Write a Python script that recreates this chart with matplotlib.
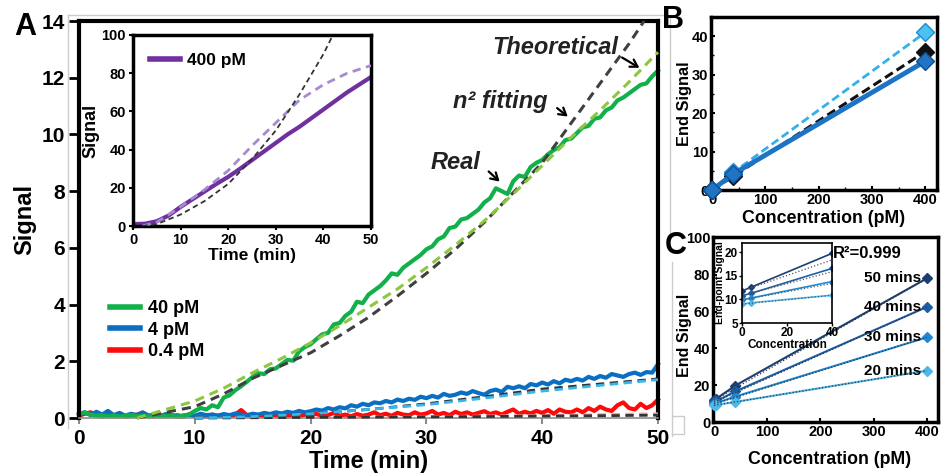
import matplotlib
matplotlib.use('Agg')
import matplotlib.pyplot as plt
import numpy as np
from matplotlib.lines import Line2D

plt.rcParams['font.family'] = ['Liberation Sans', 'DejaVu Sans']
plt.rcParams['font.weight'] = 'bold'
plt.rcParams['axes.labelweight'] = 'bold'

W, H = 942, 475

# ---- panel A, raw traces sampled every 0.5 min ----
time = np.arange(0, 50.01, 0.5)
green_40 = [0.15, 0.2, 0.12, 0.08, 0.1, 0.06, 0.09, 0.05, 0.08, 0.1,
            0.06, 0.08, 0.05, 0.07, 0.1, 0.06, 0.08, 0.05, 0.09, 0.12,
            0.25, 0.35, 0.3, 0.45, 0.38, 0.72, 0.8, 0.98, 1.12, 1.28,
            1.45, 1.58, 1.55, 1.72, 1.75, 1.9, 2.05, 2.02, 2.35, 2.5,
            2.6, 2.78, 2.95, 3.0, 3.3, 3.35, 3.6, 3.75, 4.1, 4.05,
            4.35, 4.5, 4.65, 4.85, 5.1, 5.05, 5.3, 5.45, 5.6, 5.75,
            5.95, 6.05, 6.3, 6.4, 6.7, 6.75, 7.0, 7.05, 7.2, 7.35,
            7.6, 7.75, 8.1, 8.0, 7.9, 8.35, 8.55, 8.5, 8.85, 9.0,
            9.1, 9.3, 9.45, 9.55, 9.8, 9.85, 10.05, 10.25, 10.3, 10.55,
            10.6, 10.85, 10.95, 11.2, 11.3, 11.45, 11.6, 11.75, 11.8, 12.05,
            12.25]
blue_4 = [0.12, 0.2, 0.1, 0.22, 0.12, 0.25, 0.1, 0.18, 0.08, 0.15,
          0.1, 0.2, 0.08, 0.12, 0.06, 0.14, 0.08, 0.1, 0.05, 0.12,
          0.08, 0.15, 0.1, 0.12, 0.08, 0.14, 0.1, 0.16, 0.12, 0.1,
          0.15, 0.12, 0.18, 0.14, 0.2, 0.16, 0.22, 0.18, 0.25, 0.2,
          0.24, 0.3, 0.26, 0.35, 0.3, 0.38, 0.34, 0.45, 0.4, 0.5,
          0.45, 0.55, 0.52, 0.6, 0.55, 0.65, 0.6, 0.68, 0.64, 0.75,
          0.7, 0.78, 0.72, 0.85, 0.78, 0.82, 0.9, 0.85, 0.95, 0.88,
          0.82, 0.95, 1.0, 0.92, 1.1, 1.05, 1.12, 1.05, 1.2, 1.15,
          1.25, 1.18, 1.3, 1.22, 1.35, 1.3, 1.38, 1.32, 1.45, 1.38,
          1.48, 1.42, 1.55, 1.5, 1.45, 1.55, 1.6, 1.52, 1.62, 1.6,
          1.9]
red_04 = [0.08, 0.15, 0.2, 0.1, 0.05, 0.12, 0.06, 0.1, 0.04, 0.08,
          0.12, 0.18, 0.08, 0.05, 0.12, 0.06, 0.1, 0.04, 0.08, 0.12,
          0.06, 0.1, 0.05, 0.12, 0.08, 0.1, 0.05, 0.12, 0.28, 0.1,
          0.06, 0.1, 0.05, 0.12, 0.08, 0.14, 0.06, 0.1, 0.05, 0.12,
          0.08, 0.15, 0.06, 0.1, 0.18, 0.08, 0.12, 0.06, 0.14, 0.08,
          0.12, 0.2, 0.1, 0.15, 0.08, 0.18, 0.12, 0.1, 0.2, 0.12,
          0.16, 0.25, 0.12, 0.18, 0.1, 0.22, 0.14, 0.2, 0.12, 0.18,
          0.24, 0.14, 0.2, 0.12, 0.22, 0.3, 0.15, 0.22, 0.16, 0.25,
          0.18, 0.28, 0.15, 0.3, 0.22, 0.2, 0.3, 0.2, 0.35, 0.25,
          0.4, 0.3, 0.25, 0.45, 0.55, 0.35, 0.3, 0.5, 0.35, 0.45,
          0.65]

# fitted / theoretical curves
fit_t = [5, 7.5, 10, 12.5, 15, 17.5, 20, 22.5, 25, 27.5, 30, 32.5, 35, 37.5, 40, 42.5, 45, 47.5, 50]
green_fit = [0, 0.3, 0.6, 1.05, 1.6, 2.1, 2.65, 3.25, 3.9, 4.55, 5.3, 6.1, 6.95, 7.9, 8.9, 9.9, 10.85, 11.85, 12.9]
theo_t = [5, 7.5, 10, 12.5, 15, 17.5, 20, 22.5, 25, 27.5, 30, 32.5, 35, 37.5, 40, 42.5, 45, 47.5, 48.8]
green_theo = [0, 0.2, 0.4, 0.85, 1.4, 1.85, 2.3, 2.9, 3.55, 4.3, 5.1, 5.95, 6.9, 7.95, 9.0, 10.4, 11.8, 13.2, 14.0]
low_t = [10, 15, 20, 25, 30, 35, 40, 45, 50]
blue_fit = [0, 0.05, 0.15, 0.3, 0.47, 0.7, 0.95, 1.15, 1.35]
blue_theo = [0, 0.05, 0.15, 0.3, 0.5, 0.75, 1.02, 1.2, 1.38]
red_fit = [0, 0.01, 0.02, 0.03, 0.05, 0.07, 0.09, 0.12, 0.15]
red_theo = [0, 0.01, 0.02, 0.03, 0.04, 0.05, 0.07, 0.08, 0.1]

# inset A (400 pM)
ins_t = [0, 2.5, 5, 7.5, 10, 12.5, 15, 17.5, 20, 22.5, 25, 27.5, 30, 32.5, 35, 37.5, 40, 42.5, 45, 47.5, 50]
purple_400 = [1, 1.2, 2.5, 5.5, 10, 14, 18, 22, 25.7, 30, 34.5, 39, 43.5, 48, 52, 56.5, 61, 65.5, 70, 74, 78]
pfit_t = [2, 5, 10, 15, 20, 25, 30, 35, 40, 45, 50]
purple_fit = [0, 2, 10, 19, 29, 42, 54, 66, 74, 80, 84]
ptheo_t = [2, 5, 10, 15, 20, 25, 30, 35, 40, 42]
purple_theo = [0, 1, 6, 13, 22, 35, 50, 69, 90, 100]

# panel B
b_conc = [0, 40, 400]
b_theory = [0, 4.6, 41.0]
b_fit = [0, 3.6, 36.0]
b_real = [0, 4.2, 33.5]

# panel C
c_conc = [0, 4, 40, 400]
c_labels = ['50 mins', '40 mins', '30 mins', '20 mins']
c_50 = [11.8, 12.6, 19.8, 78.0]
c_40 = [10.8, 11.3, 16.6, 62.5]
c_30 = [9.9, 10.3, 13.8, 46.0]
c_20 = [9.0, 9.3, 10.9, 27.9]
cfit_conc = [0, 40, 400]
cfit_50 = [11.8, 18.4, 78.0]
cfit_40 = [10.8, 15.9, 62.5]
cfit_30 = [9.9, 13.4, 46.0]
cfit_20 = [9.0, 10.9, 27.9]
c_colors = ['#1c3f73', '#1d5ea8', '#1f8ad4', '#4db8ec']


fig = plt.figure(figsize=(W / 100, H / 100), dpi=100)


def px_axes(x0, y0, x1, y1):
    return fig.add_axes([x0 / W, 1 - y1 / H, (x1 - x0) / W, (y1 - y0) / H])


def frame(ax, lw):
    for s in ax.spines.values():
        s.set_linewidth(lw)
        s.set_color('black')


def gray_line(xs, ys):
    fig.add_artist(Line2D([x / W for x in xs], [1 - y / H for y in ys],
                          color='#cccccc', lw=1, transform=fig.transFigure))


# faint panel borders from the original layout
gray_line([68, 665], [15, 15])
gray_line([68, 68], [15, 428])
gray_line([670, 670], [15, 236])
gray_line([672, 672], [262, 436])
gray_line([672, 684, 684, 672], [416, 416, 434, 434])

# ---------------- A ----------------
ax = px_axes(79, 21, 658, 418)
ax.plot(time, red_04, color='#ff0a0a', lw=3, clip_on=False, zorder=2)
ax.plot(time, blue_4, color='#0a6fc2', lw=3, clip_on=False, zorder=2.1)
ax.plot(time, green_40, color='#11b04b', lw=3, clip_on=False, zorder=2.2)
ax.plot(low_t, red_fit, color='#f4a0a0', lw=2, ls=(0, (3, 2)), clip_on=False, zorder=3)
ax.plot(low_t, red_theo, color='#333333', lw=2, ls=(0, (3, 2)), clip_on=False, zorder=3)
ax.plot(low_t, blue_theo, color='#333333', lw=2, ls=(0, (3, 2)), clip_on=False, zorder=3)
ax.plot(low_t, blue_fit, color='#38b6ea', lw=2, ls=(0, (3, 2)), clip_on=False, zorder=3.1)
ax.plot(theo_t, green_theo, color='#404040', lw=2.2, ls=(0, (3, 2)), clip_on=False, zorder=3)
ax.plot(fit_t, green_fit, color='#8dc63f', lw=2.2, ls=(0, (3, 2)), clip_on=False, zorder=3.1)
ax.set_xlim(0, 50)
ax.set_ylim(0, 14)
ax.set_xticks([0, 10, 20, 30, 40, 50])
ax.set_yticks(range(0, 15, 2))
frame(ax, 3)
ax.spines['bottom'].set_linewidth(1.2)
ax.spines['bottom'].set_color('#8c8c8c')
ax.tick_params(axis='y', direction='out', length=7, width=2, labelsize=15, pad=3)
ax.tick_params(axis='x', direction='out', length=4, width=1.5, color='#8c8c8c', labelsize=15, pad=4)
ax.set_xlabel('Time (min)', fontsize=17)
ax.set_ylabel('Signal', fontsize=17)
ax.xaxis.set_label_coords(0.5, -0.081)
ax.yaxis.set_label_coords(-0.073, 0.5)

leg_handles = [Line2D([], [], color='#11b04b', lw=4),
               Line2D([], [], color='#0a6fc2', lw=4),
               Line2D([], [], color='#ff0a0a', lw=4)]
ax.legend(leg_handles, ['40 pM', '4 pM', '0.4 pM'], loc='upper left',
          bbox_to_anchor=(110 / W, 1 - 300 / H), bbox_transform=fig.transFigure,
          frameon=False, fontsize=13, handlelength=1.65, handletextpad=0.45,
          labelspacing=0.25, borderpad=0, borderaxespad=0)

note = dict(fontsize=17, fontweight='bold', style='italic', color='#222222',
            ha='center', va='center')
ax.text(41.1, 13.07, 'Theoretical', **note)
ax.text(36.4, 11.17, 'n\u00b2 fitting', **note)
ax.text(32.5, 9.01, 'Real', **note)
arrow = dict(arrowstyle='->,head_length=0.5,head_width=0.3', color='black', lw=1.6)
ax.annotate('', xy=(48.6, 12.3), xytext=(46.7, 12.76), arrowprops=arrow)
ax.annotate('', xy=(42.4, 10.57), xytext=(41.1, 10.99), arrowprops=arrow)
ax.annotate('', xy=(36.5, 8.27), xytext=(35.2, 8.76), arrowprops=arrow)

fig.text(25 / W, 1 - 27 / H, 'A', fontsize=22, fontweight='bold', ha='center', va='center')

# inset A
ai = px_axes(133, 35, 371, 226)
ai.set_zorder(5)
ai.plot(ins_t, purple_400, color='#7030a0', lw=3, zorder=2)
ai.plot(pfit_t, purple_fit, color='#a58bd0', lw=2, ls=(0, (3, 2)), zorder=3)
ai.plot(ptheo_t, purple_theo, color='#333333', lw=1.3, ls=(0, (3, 2)), zorder=3)
ai.set_xlim(0, 50)
ai.set_ylim(0, 100)
ai.set_xticks([0, 10, 20, 30, 40, 50])
ai.set_yticks(range(0, 101, 20))
frame(ai, 2.5)
ai.tick_params(direction='out', length=3, width=1.5, labelsize=10.5, pad=2)
ai.set_xlabel('Time (min)', fontsize=12.5, labelpad=1)
ai.set_ylabel('Signal', fontsize=13)
ai.yaxis.set_label_coords(-0.139, 0.5)
ai.legend([Line2D([], [], color='#7030a0', lw=4)], ['400 pM'], loc='upper left',
          bbox_to_anchor=(150 / W, 1 - 53 / H), bbox_transform=fig.transFigure,
          frameon=False, fontsize=12.5, handlelength=1.75, handletextpad=0.4,
          borderpad=0, borderaxespad=0)

# ---------------- B ----------------
bx = px_axes(711, 17, 937, 190)
bx.plot(b_conc, b_theory, color='#33b0ea', lw=2, ls=(0, (3, 1.5)), marker='D',
        ms=9, mfc='#4cc0f0', mec='#1a8ccc', clip_on=False, zorder=3)
bx.plot(b_conc, b_fit, color='#111111', lw=2.2, ls=(0, (3, 1.5)), marker='D',
        ms=9, mfc='#111111', mec='#111111', clip_on=False, zorder=3.1)
bx.plot(b_conc, b_real, color='#1d74c4', lw=3.5, marker='D',
        ms=9, mfc='#2173c4', mec='#0d4f99', clip_on=False, zorder=3.2)
bx.set_xlim(-2, 422)
bx.set_ylim(0, 45)
bx.set_xticks([0, 100, 200, 300, 400])
bx.set_yticks([0, 10, 20, 30, 40])
bx.set_yticks([5, 15, 25, 35, 45], minor=True)
bx.set_xticks([50, 150, 250, 350], minor=True)
frame(bx, 2.5)
bx.tick_params(which='major', direction='in', length=3, width=1.5, labelsize=10.5, pad=2)
bx.tick_params(which='minor', direction='in', length=2, width=1)
bx.set_xlabel('Concentration (pM)', fontsize=12.8, labelpad=2)
bx.set_ylabel('End Signal', fontsize=11.8)
bx.yaxis.set_label_coords(-0.085, 0.5)
fig.text(673 / W, 1 - 20 / H, 'B', fontsize=22, fontweight='bold', ha='center', va='center')

# ---------------- C ----------------
cx = px_axes(713, 237, 938, 422)
for vals, fits, col, lab in zip([c_50, c_40, c_30, c_20],
                                [cfit_50, cfit_40, cfit_30, cfit_20],
                                c_colors, c_labels):
    cx.plot(c_conc, vals, color=col, lw=1.5, marker='D', ms=5, mfc=col, mec=col,
            clip_on=False, zorder=3)
    cx.plot(cfit_conc, fits, color='#333333', lw=0.9, ls=':', zorder=4)
    cx.text(390, vals[-1], lab, fontsize=11, fontweight='bold', ha='right', va='center')
cx.text(0.535, 0.91, 'R\u00b2=0.999', transform=cx.transAxes, fontsize=12,
        fontweight='bold', ha='left', va='center')
cx.set_xlim(-2, 421)
cx.set_ylim(0, 100.5)
cx.set_xticks([0, 100, 200, 300, 400])
cx.set_yticks([0, 20, 40, 60, 80, 100])
frame(cx, 2.5)
cx.tick_params(direction='in', length=3, width=1.5, labelsize=10.5, pad=2)
cx.set_xlabel('Concentration (pM)', fontsize=12.8)
cx.xaxis.set_label_coords(0.52, -0.155)
cx.set_ylabel('End Signal', fontsize=11.5)
cx.yaxis.set_label_coords(-0.095, 0.47)
fig.text(676 / W, 1 - 246 / H, 'C', fontsize=22, fontweight='bold', ha='center', va='center')

# inset C
ci = px_axes(742, 243, 832, 323)
ci.set_zorder(5)
for vals, fits, col in zip([c_50, c_40, c_30, c_20],
                           [cfit_50, cfit_40, cfit_30, cfit_20], c_colors):
    ci.plot(c_conc[:3], vals[:3], color=col, lw=1.2, marker='D', ms=3, mfc=col, mec=col)
    ci.plot(cfit_conc[:2], fits[:2], color='#555555', lw=0.9, ls=':')
ci.set_xlim(0, 40)
ci.set_ylim(5, 22)
ci.set_xticks([0, 20, 40])
ci.set_yticks([5, 10, 15, 20])
frame(ci, 1.2)
ci.tick_params(direction='out', length=2, width=1, labelsize=8.5, pad=1)
ci.set_xlabel('Concentration', fontsize=8.5, labelpad=0)
ci.set_ylabel('End-point Signal', fontsize=7.5, labelpad=0)

fig.savefig('out.png', dpi=100)
